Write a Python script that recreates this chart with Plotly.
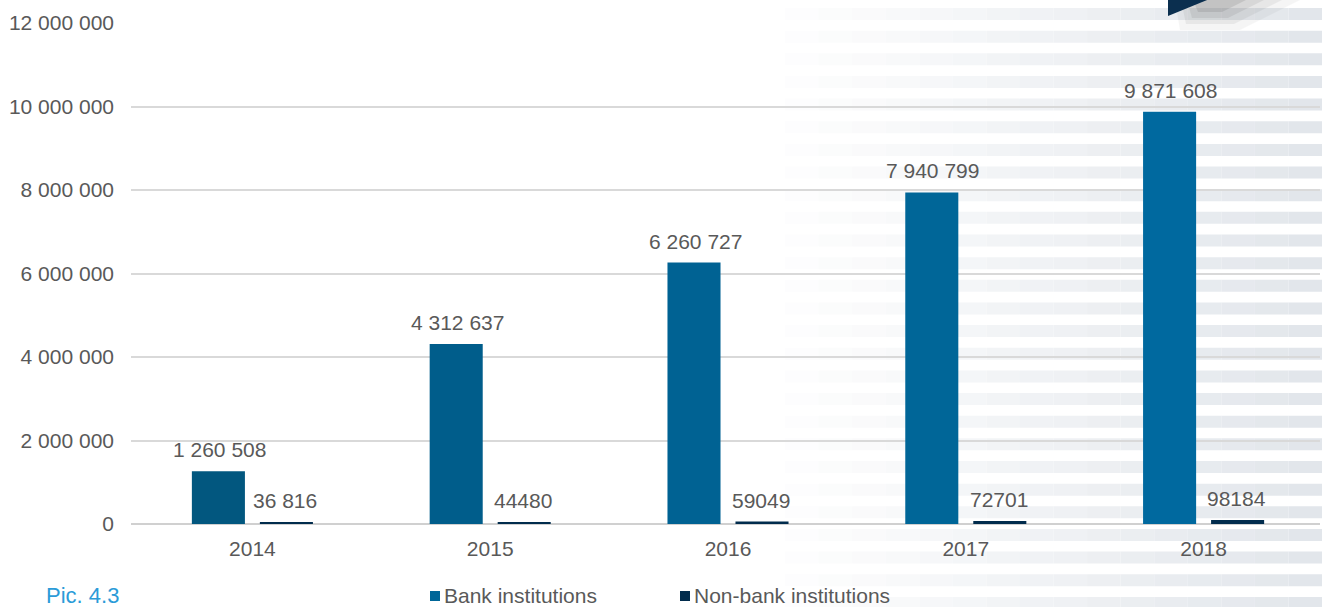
import plotly.graph_objects as go

years = ["2014", "2015", "2016", "2017", "2018"]
bank = [1260508, 4312637, 6260727, 7940799, 9871608]
non_bank = [36816, 44480, 59049, 72701, 98184]
bank_labels = ["1 260 508", "4 312 637", "6 260 727", "7 940 799", "9 871 608"]
non_bank_labels = ["36 816", "44480", "59049", "72701", "98184"]
y_ticks = [0, 2000000, 4000000, 6000000, 8000000, 10000000, 12000000]
y_tick_labels = ["0", "2 000 000", "4 000 000", "6 000 000", "8 000 000", "10 000 000", "12 000 000"]
series_names = ["Bank institutions", "Non-bank institutions"]

W, H = 1322, 607
L, R, T, B = 131, 2, 23, 83
PW, PH = W - L - R, H - T - B
FONT = "Arial, Liberation Sans, sans-serif"
GREY = "#595959"
FS = 21

bank_colors = ["#02577f", "#005d8b", "#006293", "#006698", "#00699f"]
bank_legend_color = "#006698"
non_bank_color = "#012c4d"


def px_x(px):
    return (px - L) / PW


def px_y(py):
    return (H - B - py) / PH


fig = go.Figure()
fig.add_trace(go.Bar(name=series_names[0], x=years, y=bank, showlegend=False,
                     marker=dict(color=bank_colors, line=dict(width=0))))
fig.add_trace(go.Bar(name=series_names[1], x=years, y=non_bank, showlegend=False,
                     marker=dict(color=non_bank_color, line=dict(width=0))))

# value labels (category index positions)
for i, (v, t) in enumerate(zip(bank, bank_labels)):
    fig.add_annotation(x=i, y=v, text=t, xshift=-33, yshift=8, yanchor="bottom",
                       showarrow=False, font=dict(size=FS, color=GREY, family=FONT))
for i, (v, t) in enumerate(zip(non_bank, non_bank_labels)):
    fig.add_annotation(x=i, y=v, text=t, xshift=33, yshift=8, yanchor="bottom",
                       showarrow=False, font=dict(size=FS, color=GREY, family=FONT))

fig.add_annotation(xref="paper", yref="paper", x=px_x(44), y=px_y(595), text="Pic. 4.3",
                   xanchor="left", yanchor="middle", showarrow=False,
                   font=dict(size=22, color="#2b9bd8", family=FONT))

shapes = []

# legend: colour square + label
for name, col, lx in zip(series_names, [bank_legend_color, non_bank_color], [430, 680]):
    shapes.append(dict(type="rect", xref="paper", yref="paper",
                       x0=px_x(lx), x1=px_x(lx + 10), y0=px_y(601), y1=px_y(591),
                       fillcolor=col, line=dict(width=0)))
    fig.add_annotation(xref="paper", yref="paper", x=px_x(lx + 13), y=px_y(595),
                       text=name, xanchor="left", yanchor="middle", showarrow=False,
                       borderpad=0, font=dict(size=FS, color=GREY, family=FONT))

# decorative striped background on the right
steps = 16
x0, x1 = 785, W
end_rgb = (226, 230, 235)
band_top = 8.0
while band_top < H:
    for i in range(steps):
        a = x0 + (x1 - x0) * i / steps
        b = x0 + (x1 - x0) * (i + 1) / steps
        f = (i + 1) / steps
        col = "rgb(%d,%d,%d)" % tuple(round(255 - (255 - c) * f) for c in end_rgb)
        shapes.append(dict(type="rect", xref="paper", yref="paper", layer="below",
                           x0=px_x(a), x1=px_x(b), y0=px_y(band_top + 12), y1=px_y(band_top),
                           fillcolor=col, line=dict(width=0)))
    band_top += 22.65

# corner ribbon shadow and triangle
for k, op in enumerate([0.05, 0.07, 0.09, 0.12]):
    d = 6 * k
    shapes.append(dict(type="path", xref="paper", yref="paper", layer="below",
                       path="M %f,%f L %f,%f L %f,%f L %f,%f Z" % (
                           px_x(1175 + d), px_y(0), px_x(1300 - 3 * d), px_y(0),
                           px_x(1240 - d), px_y(30 - d), px_x(1180 + d), px_y(30 - d)),
                       fillcolor="rgba(60,60,60,%f)" % op, line=dict(width=0)))
shapes.append(dict(type="path", xref="paper", yref="paper",
                   path="M %f,%f L %f,%f L %f,%f Z" % (
                       px_x(1168), px_y(-2), px_x(1212), px_y(-2), px_x(1168), px_y(16)),
                   fillcolor="#0b2f4f", line=dict(width=0)))

fig.update_layout(
    width=W, height=H,
    margin=dict(l=L, r=R, t=T, b=B, autoexpand=False),
    paper_bgcolor="white",
    plot_bgcolor="rgba(0,0,0,0)",
    barmode="group",
    bargap=0.428,
    bargroupgap=0.22,
    font=dict(family=FONT, size=FS, color=GREY),
    shapes=shapes,
    showlegend=False,
    xaxis=dict(type="category", range=[-0.5105, len(years) - 0.5105], showgrid=False,
               showline=False, ticks="", ticklabelstandoff=10,
               tickfont=dict(size=FS, color=GREY)),
    yaxis=dict(range=[0, 12000000], tickvals=y_ticks, ticktext=y_tick_labels,
               showgrid=True, gridcolor="#d9d9d9", gridwidth=1.5,
               zeroline=True, zerolinecolor="#d0d0d0", zerolinewidth=2,
               showline=False, ticks="", ticklabelstandoff=16,
               tickfont=dict(size=FS, color=GREY)),
)

fig.write_html("out.html", config={"displayModeBar": False},
               post_script="document.body.style.margin='0';")
